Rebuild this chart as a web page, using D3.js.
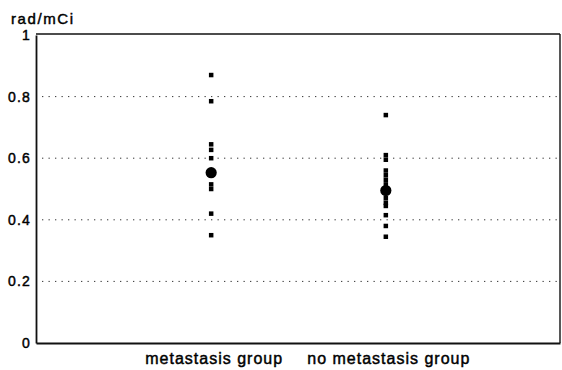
<!DOCTYPE html>
<html>
<head>
<meta charset="utf-8">
<script src="https://cdn.jsdelivr.net/npm/d3@7"></script>
<style>
  html, body { margin: 0; padding: 0; background: #fff; }
  svg { display: block; font-family: "Liberation Sans", Arial, sans-serif; }
</style>
</head>
<body>
<svg id="chart" width="562" height="370"></svg>
<script>
// ---- data ----
const categories = ["metastasis group", "no metastasis group"];
const metastasisValues = [0.87, 0.785, 0.645, 0.627, 0.60, 0.515, 0.50, 0.42, 0.35];
const noMetastasisValues = [0.74, 0.61, 0.595, 0.56, 0.545, 0.53, 0.515, 0.47, 0.455, 0.445, 0.415, 0.38, 0.345];
const groupMeans = [0.553, 0.495];
const yTickValues = [0, 0.2, 0.4, 0.6, 0.8, 1];
const yTickLabels = ["0", "0.2", "0.4", "0.6", "0.8", "1"];
const yUnit = "rad/mCi";

// ---- layout ----
const svg = d3.select("#chart");
const mLeft = 36, mRight = 560, mTop = 35, mBottom = 343;

const x = d3.scalePoint().domain(categories).range([mLeft, mRight]).padding(1);
const y = d3.scaleLinear().domain([0, 1]).range([mBottom, mTop]);

// gridlines
svg.append("g").selectAll("line")
  .data(yTickValues.filter(v => v > 0 && v < 1))
  .join("line")
  .attr("x1", mLeft + 6).attr("x2", mRight)
  .attr("y1", d => y(d)).attr("y2", d => y(d))
  .attr("stroke", "#333").attr("stroke-width", 1)
  .attr("stroke-dasharray", "1.3,5.2");

// frame
svg.append("line").attr("x1", mLeft).attr("x2", mRight).attr("y1", y(1) - 1).attr("y2", y(1) - 1)
  .attr("stroke", "#111").attr("stroke-width", 1.4);
svg.append("line").attr("x1", mRight).attr("x2", mRight).attr("y1", y(1) - 1).attr("y2", mBottom)
  .attr("stroke", "#111").attr("stroke-width", 1.4);

// axes
const yAxis = d3.axisLeft(y).tickValues(yTickValues)
  .tickFormat((d, i) => yTickLabels[i]).tickSize(0).tickPadding(5);
const gy = svg.append("g").attr("transform", `translate(${mLeft},0)`).call(yAxis);
gy.select(".domain").attr("stroke", "#111").attr("stroke-width", 1.8);
gy.selectAll("text").attr("font-size", 14).attr("fill", "#000")
  .attr("stroke", "#000").attr("stroke-width", 0.45)
  .attr("font-family", "Liberation Sans, Arial, sans-serif")
  .style("letter-spacing", "1.2px");

const xAxis = d3.axisBottom(x).tickSize(0).tickPadding(10);
const gx = svg.append("g").attr("transform", `translate(0,${mBottom})`).call(xAxis);
gx.select(".domain").attr("stroke", "#111").attr("stroke-width", 2.2);
gx.selectAll("text").attr("font-size", 16).attr("fill", "#000").attr("dx", 3)
  .attr("stroke", "#000").attr("stroke-width", 0.45)
  .attr("font-family", "Liberation Sans, Arial, sans-serif")
  .style("letter-spacing", "1px");

// unit label
svg.append("text").attr("x", 11).attr("y", 24)
  .attr("font-size", 15).attr("fill", "#000")
  .attr("stroke", "#000").attr("stroke-width", 0.45)
  .style("letter-spacing", "1.6px")
  .text(yUnit);

// points
const groups = [metastasisValues, noMetastasisValues];
const sq = 4.5;
groups.forEach((vals, gi) => {
  svg.append("g").selectAll("rect")
    .data(vals)
    .join("rect")
    .attr("x", x(categories[gi]) - sq / 2 + 0.5)
    .attr("y", d => y(d) - sq / 2)
    .attr("width", sq).attr("height", sq)
    .attr("fill", "#000");
});

// means
svg.append("g").selectAll("circle")
  .data(groupMeans)
  .join("circle")
  .attr("cx", (d, i) => x(categories[i]) + 0.5)
  .attr("cy", d => y(d))
  .attr("r", 5.6)
  .attr("fill", "#000");
</script>
</body>
</html>
